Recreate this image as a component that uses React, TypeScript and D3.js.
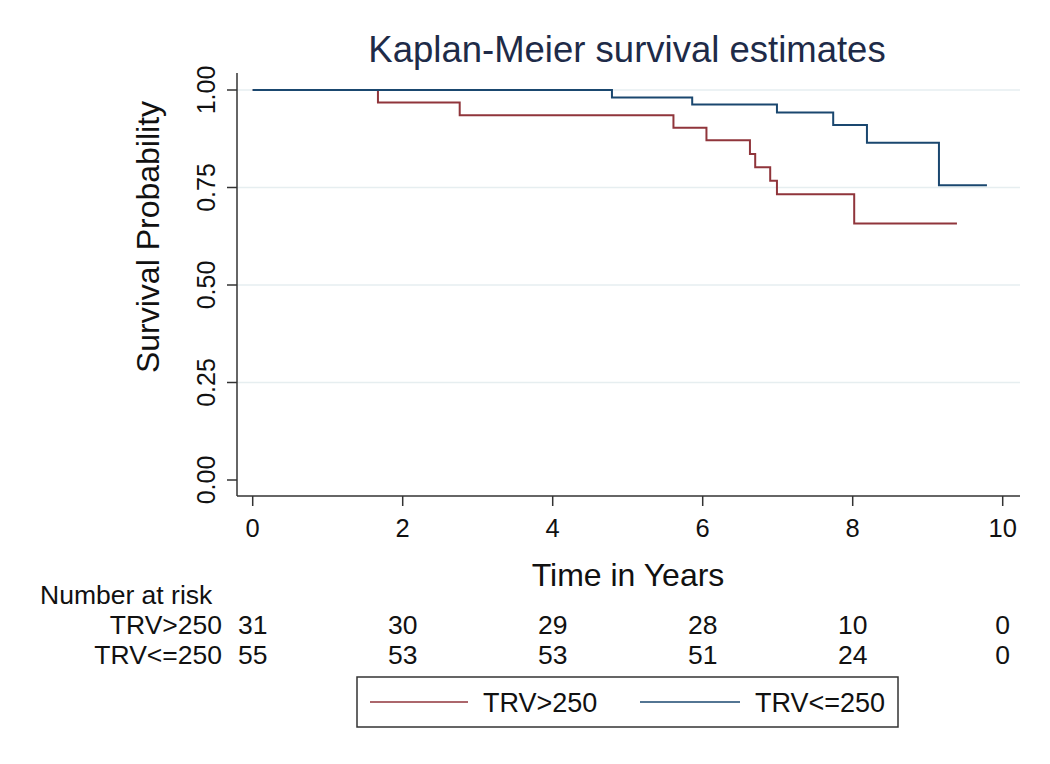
import React from "react";
import * as d3 from "d3";

const redTimes = [0, 1.67, 2.76, 5.61, 6.05, 6.63, 6.7, 6.9, 6.99, 8.02, 9.39];
const redSurv = [1, 0.968, 0.935, 0.903, 0.871, 0.836, 0.802, 0.767, 0.733, 0.658, 0.658];
const blueTimes = [0, 4.79, 5.86, 6.99, 7.74, 8.19, 9.15, 9.79];
const blueSurv = [1, 0.981, 0.963, 0.942, 0.91, 0.865, 0.756, 0.756];

const xTicks = [0, 2, 4, 6, 8, 10];
const yTicks = [0, 0.25, 0.5, 0.75, 1];
const gridTicks = [0.25, 0.5, 0.75, 1];
const riskTimes = [0, 2, 4, 6, 8, 10];
const riskRed = [31, 30, 29, 28, 10, 0];
const riskBlue = [55, 53, 53, 51, 24, 0];
const groupNames = ["TRV>250", "TRV<=250"];

const RED = "#90353b";
const BLUE = "#1a476f";
const FONT = "'Liberation Sans', Arial, sans-serif";

export default function App() {
  const W = 1050, H = 764;
  const plotL = 237, plotR = 1020, plotT = 73, plotB = 496;
  const x = d3.scaleLinear().domain([0, 10]).range([252.7, 1002.7]);
  const y = d3.scaleLinear().domain([0, 1]).range([480, 90]);

  const line = d3
    .line<[number, number]>()
    .x((d) => x(d[0]))
    .y((d) => y(d[1]))
    .curve(d3.curveStepAfter);

  const redPts = redTimes.map((t, i) => [t, redSurv[i]] as [number, number]);
  const bluePts = blueTimes.map((t, i) => [t, blueSurv[i]] as [number, number]);

  const small = 26.5;

  return (
    <svg
      width={W}
      height={H}
      style={{ position: "absolute", left: 0, top: 0, background: "#fff" }}
      fontFamily={FONT}
    >
      <rect x={0} y={0} width={W} height={H} fill="#fff" />
      {/* title */}
      <text x={627} y={62} textAnchor="middle" fontSize={36.5} fill="#1e2b48">
        Kaplan-Meier survival estimates
      </text>
      {/* grid */}
      {gridTicks.map((t) => (
        <line key={t} x1={plotL} x2={plotR} y1={y(t)} y2={y(t)} stroke="#e6eef0" strokeWidth={1.5} />
      ))}
      {/* curves */}
      <path d={line(redPts) || ""} fill="none" stroke={RED} strokeWidth={2} />
      <path d={line(bluePts) || ""} fill="none" stroke={BLUE} strokeWidth={2} />
      {/* axes */}
      <line x1={plotL} x2={plotL} y1={plotT} y2={plotB} stroke="#333" strokeWidth={1.5} />
      <line x1={plotL} x2={plotR} y1={plotB} y2={plotB} stroke="#333" strokeWidth={1.5} />
      {yTicks.map((t) => (
        <g key={t}>
          <line x1={plotL - 10} x2={plotL} y1={y(t)} y2={y(t)} stroke="#333" strokeWidth={1.5} />
          <text
            transform={`translate(215,${y(t)}) rotate(-90)`}
            textAnchor="middle"
            fontSize={25}
            fill="#111"
          >
            {d3.format(".2f")(t)}
          </text>
        </g>
      ))}
      {xTicks.map((t) => (
        <g key={t}>
          <line x1={x(t)} x2={x(t)} y1={plotB} y2={plotB + 10} stroke="#333" strokeWidth={1.5} />
          <text x={x(t)} y={537} textAnchor="middle" fontSize={25.5} fill="#111">
            {t}
          </text>
        </g>
      ))}
      <text
        transform={`translate(159,237) rotate(-90)`}
        textAnchor="middle"
        fontSize={32}
        fill="#111"
      >
        Survival Probability
      </text>
      <text x={628} y={586} textAnchor="middle" fontSize={32} fill="#111">
        Time in Years
      </text>
      {/* risk table */}
      <text x={40} y={604} fontSize={small} fill="#111">
        Number at risk
      </text>
      <text x={222} y={634} textAnchor="end" fontSize={small} fill="#111">
        {groupNames[0]}
      </text>
      <text x={222} y={664} textAnchor="end" fontSize={small} fill="#111">
        {groupNames[1]}
      </text>
      {riskTimes.map((t, i) => (
        <g key={t}>
          <text x={x(t)} y={634} textAnchor="middle" fontSize={small} fill="#111">
            {riskRed[i]}
          </text>
          <text x={x(t)} y={664} textAnchor="middle" fontSize={small} fill="#111">
            {riskBlue[i]}
          </text>
        </g>
      ))}
      {/* legend */}
      <rect x={357} y={677} width={541} height={50} fill="#fff" stroke="#333" strokeWidth={1.5} />
      <line x1={370} x2={468} y1={702} y2={702} stroke={RED} strokeWidth={1.5} />
      <text x={483} y={712} fontSize={small + 0.5} fill="#111">
        {groupNames[0]}
      </text>
      <line x1={640} x2={740} y1={702} y2={702} stroke={BLUE} strokeWidth={1.5} />
      <text x={755} y={712} fontSize={small + 0.5} fill="#111">
        {groupNames[1]}
      </text>
    </svg>
  );
}
